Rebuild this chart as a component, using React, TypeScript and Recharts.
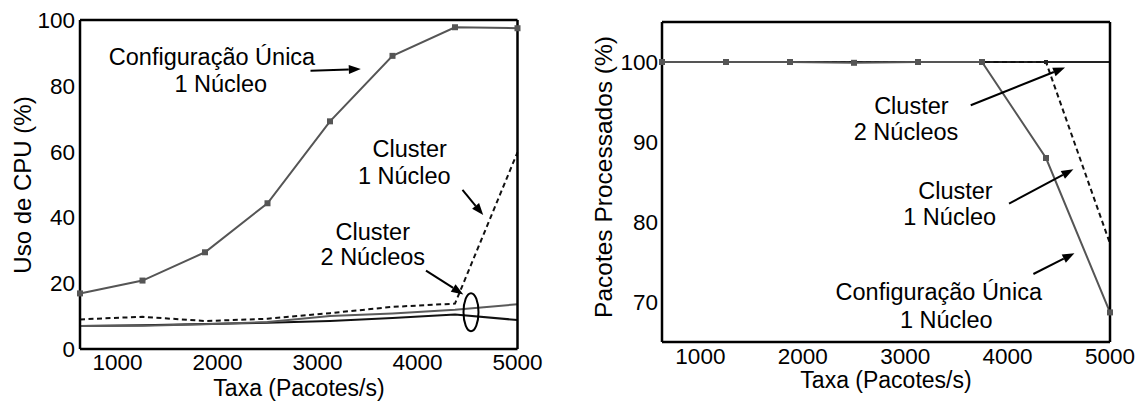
import React from 'react';
import { LineChart, Line, XAxis, YAxis, ReferenceDot, ReferenceLine } from 'recharts';

const FONT = '"Liberation Sans", Arial, Helvetica, sans-serif';

// ---- data ----
const rates = [625, 1250, 1875, 2500, 3125, 3750, 4375, 5000];

// Left: CPU usage (%)
const cpuConfigUnica = [16.9, 20.8, 29.4, 44.3, 69.2, 89.1, 97.8, 97.5];
const cpuCluster1 = [9.0, 9.8, 8.5, 9.2, 10.9, 12.8, 13.8, 59.8];
const cpuCluster2a = [7.0, 7.2, 7.6, 8.0, 8.5, 9.4, 10.5, 8.8];
const cpuCluster2b = [7.0, 7.1, 7.5, 8.2, 10.0, 10.8, 11.9, 13.6];

// Right: processed packets (%)
const procConfigUnica = [100, 100, 100, 99.9, 100, 100, 88.0, 68.7];
const procCluster1 = [100, 100, 100, 100, 100, 100, 100, 77.3];
const procCluster2 = [100, 100, 100, 100, 100, 100, 100, 100];

const xTicks = [1000, 2000, 3000, 4000, 5000];
const cpuTicks = [0, 20, 40, 60, 80, 100];
const procTicks = [70, 80, 90, 100];

// annotations (data coordinates)
const cpuTexts = [
  { x: 1945, y: 86.2, t: 'Configuração Única' },
  { x: 2033, y: 78.2, t: '1 Núcleo' },
  { x: 3922, y: 58.5, t: 'Cluster' },
  { x: 3868, y: 50.3, t: '1 Núcleo' },
  { x: 3553, y: 33.0, t: 'Cluster' },
  { x: 3553, y: 25.4, t: '2 Núcleos' },
];
const cpuArrows = [
  { x1: 2930, y1: 84.6, x2: 3433, y2: 85.1 },
  { x1: 4450, y1: 48.4, x2: 4657, y2: 40.7 },
  { x1: 4085, y1: 23.8, x2: 4458, y2: 16.6 },
];
const cpuEllipse = { x: 4535, y: 11.2 };

const procTexts = [
  { x: 3060, y: 93.5, t: 'Cluster' },
  { x: 3008, y: 90.2, t: '2 Núcleos' },
  { x: 3491, y: 82.9, t: 'Cluster' },
  { x: 3434, y: 79.6, t: '1 Núcleo' },
  { x: 3328, y: 70.3, t: 'Configuração Única' },
  { x: 3401, y: 66.8, t: '1 Núcleo' },
];
const procArrows = [
  { x1: 3640, y1: 94.6, x2: 4561, y2: 99.3 },
  { x1: 4014, y1: 82.3, x2: 4643, y2: 86.6 },
  { x1: 4252, y1: 73.5, x2: 4653, y2: 76.1 },
];

const cpuData = rates.map((r, i) => ({
  rate: r,
  cu: cpuConfigUnica[i],
  c1: cpuCluster1[i],
  c2a: cpuCluster2a[i],
  c2b: cpuCluster2b[i],
}));
const procData = rates.map((r, i) => ({
  rate: r,
  cu: procConfigUnica[i],
  c1: procCluster1[i],
  c2: procCluster2[i],
}));

// ---- shapes ----
const GRAY = '#555';
const TEXT_SIZE = 23.5;
const TICK_SIZE = 22.5;

const squareDot = (size: number, color: string) => (p: any) => (
  <rect key={`sq-${p.index}`} x={p.cx - size / 2} y={p.cy - size / 2} width={size} height={size} fill={color} />
);

const arrowShape = (p: any) => {
  const { x1, y1, x2, y2 } = p;
  const dx = x2 - x1;
  const dy = y2 - y1;
  const len = Math.hypot(dx, dy) || 1;
  const ux = dx / len;
  const uy = dy / len;
  const hl = 12;
  const hw = 4.5;
  const bx = x2 - ux * hl;
  const by = y2 - uy * hl;
  const pts = `${x2},${y2} ${bx - uy * hw},${by + ux * hw} ${bx + uy * hw},${by - ux * hw}`;
  return (
    <g>
      <line x1={x1} y1={y1} x2={bx} y2={by} stroke="#000" strokeWidth={2} />
      <polygon points={pts} fill="#000" />
    </g>
  );
};

const textShape = (t: string) => (p: any) => (
  <text x={p.cx} y={p.cy} textAnchor="middle" fontSize={TEXT_SIZE} fontFamily={FONT} fill="#000">
    {t}
  </text>
);

const ellipseShape = (p: any) => (
  <ellipse cx={p.cx} cy={p.cy} rx={7.5} ry={19} fill="none" stroke="#000" strokeWidth={2} />
);

const tickStyle = { fontSize: TICK_SIZE, fontFamily: FONT, fill: '#000' };
const frame = { stroke: '#000', strokeWidth: 2.5 };
const inTick = { stroke: '#000', strokeWidth: 1.5 };

function App() {
  return (
    <div style={{ position: 'absolute', left: 0, top: 0, width: 1140, height: 401, background: '#fff' }}>
      <div style={{ position: 'absolute', left: 0, top: 0 }}>
        <LineChart width={570} height={401} data={cpuData} margin={{ top: 20, right: 52.5, left: 0, bottom: 0 }}>
          <XAxis dataKey="rate" type="number" domain={[625, 5000]} ticks={xTicks} height={52}
            tickLine={false} tickSize={0} tickMargin={5} axisLine={frame} tick={tickStyle} interval={0} />
          <XAxis xAxisId="bin" dataKey="rate" type="number" domain={[625, 5000]} ticks={xTicks} orientation="bottom"
            mirror tick={false} tickSize={5} tickLine={inTick} axisLine={false} />
          <XAxis xAxisId="top" dataKey="rate" type="number" domain={[625, 5000]} ticks={xTicks} orientation="top"
            mirror tick={false} tickSize={5} tickLine={inTick} axisLine={frame} />
          <YAxis type="number" domain={[0, 100]} ticks={cpuTicks} width={80} tickLine={false} tickSize={0}
            tickMargin={5} axisLine={frame} tick={tickStyle} interval={0} />
          <YAxis yAxisId="lin" type="number" domain={[0, 100]} ticks={cpuTicks} orientation="left" mirror
            tick={false} tickSize={5} tickLine={inTick} axisLine={false} />
          <YAxis yAxisId="right" type="number" domain={[0, 100]} ticks={cpuTicks} orientation="right" mirror
            tick={false} tickSize={5} tickLine={inTick} axisLine={frame} />
          <Line dataKey="c2a" stroke="#111" strokeWidth={2} dot={false} isAnimationActive={false} />
          <Line dataKey="c2b" stroke="#5a5a5a" strokeWidth={2} dot={false} isAnimationActive={false} />
          <Line dataKey="c1" stroke="#111" strokeWidth={2} strokeDasharray="5 3.5" dot={false} isAnimationActive={false} />
          <Line dataKey="cu" stroke={GRAY} strokeWidth={2} dot={squareDot(6, GRAY)} isAnimationActive={false} />
          {cpuArrows.map((a, i) => (
            <ReferenceLine key={`ca${i}`} segment={[{ x: a.x1, y: a.y1 }, { x: a.x2, y: a.y2 }]} shape={arrowShape} />
          ))}
          {cpuTexts.map((t, i) => (
            <ReferenceDot key={`ct${i}`} x={t.x} y={t.y} r={0} shape={textShape(t.t)} />
          ))}
          <ReferenceDot x={cpuEllipse.x} y={cpuEllipse.y} r={0} shape={ellipseShape} />
        </LineChart>
      </div>
      <div style={{ position: 'absolute', left: 570, top: 0 }}>
        <LineChart width={570} height={401} data={procData} margin={{ top: 22, right: 30, left: 0, bottom: 0 }}>
          <XAxis dataKey="rate" type="number" domain={[625, 5000]} ticks={xTicks} height={59}
            tickLine={false} tickSize={0} tickMargin={6} axisLine={frame} tick={tickStyle} interval={0} />
          <XAxis xAxisId="bin" dataKey="rate" type="number" domain={[625, 5000]} ticks={xTicks} orientation="bottom"
            mirror tick={false} tickSize={5} tickLine={inTick} axisLine={false} />
          <XAxis xAxisId="top" dataKey="rate" type="number" domain={[625, 5000]} ticks={xTicks} orientation="top"
            mirror tick={false} tickSize={5} tickLine={inTick} axisLine={frame} />
          <YAxis type="number" domain={[65, 105]} ticks={procTicks} width={92} tickLine={false} tickSize={0}
            tickMargin={4} axisLine={frame} tick={tickStyle} interval={0} />
          <YAxis yAxisId="lin" type="number" domain={[65, 105]} ticks={procTicks} orientation="left" mirror
            tick={false} tickSize={5} tickLine={inTick} axisLine={false} />
          <YAxis yAxisId="right" type="number" domain={[65, 105]} ticks={procTicks} orientation="right" mirror
            tick={false} tickSize={5} tickLine={inTick} axisLine={frame} />
          <Line dataKey="c2" stroke="#222" strokeWidth={2} dot={false} isAnimationActive={false} />
          <Line dataKey="c1" stroke="#111" strokeWidth={2} strokeDasharray="5 3.5"
            dot={(p: any) => (p.index < 7 ? <rect key={`d${p.index}`} x={p.cx - 2} y={p.cy - 2} width={4} height={4} fill="#222" /> : <g key={`d${p.index}`} />)}
            isAnimationActive={false} />
          <Line dataKey="cu" stroke={GRAY} strokeWidth={2} dot={squareDot(6, GRAY)} isAnimationActive={false} />
          {procArrows.map((a, i) => (
            <ReferenceLine key={`pa${i}`} segment={[{ x: a.x1, y: a.y1 }, { x: a.x2, y: a.y2 }]} shape={arrowShape} />
          ))}
          {procTexts.map((t, i) => (
            <ReferenceDot key={`pt${i}`} x={t.x} y={t.y} r={0} shape={textShape(t.t)} />
          ))}
        </LineChart>
      </div>
      <svg width={1140} height={401} style={{ position: 'absolute', left: 0, top: 0, pointerEvents: 'none' }}>
        <text x={299} y={396} textAnchor="middle" fontSize={23} fontFamily={FONT} fill="#000">Taxa (Pacotes/s)</text>
        <text x={886} y={388} textAnchor="middle" fontSize={23} fontFamily={FONT} fill="#000">Taxa (Pacotes/s)</text>
        <text x={0} y={0} transform="translate(31,185) rotate(-90)" textAnchor="middle" fontSize={24} fontFamily={FONT} fill="#000">Uso de CPU (%)</text>
        <text x={0} y={0} transform="translate(612,177) rotate(-90)" textAnchor="middle" fontSize={24.5} fontFamily={FONT} fill="#000">Pacotes Processados (%)</text>
      </svg>
    </div>
  );
}

export default App;
